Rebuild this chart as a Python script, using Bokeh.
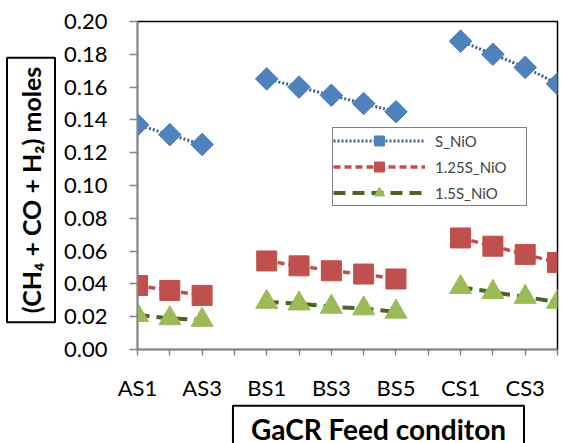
import numpy as np
from bokeh.plotting import figure
from bokeh.models import FixedTicker, Legend, LegendItem, Range1d, PrintfTickFormatter, Label
from bokeh.embed import file_html
from bokeh.resources import INLINE

# ---- data ----
feed = ["AS1", "AS2", "AS3", "", "BS1", "BS2", "BS3", "BS4", "BS5", "", "CS1", "CS2", "CS3", "CS4"]
shown_labels = ["AS1", "AS3", "BS1", "BS3", "BS5", "CS1", "CS3"]
y_ticks = [0.00, 0.02, 0.04, 0.06, 0.08, 0.10, 0.12, 0.14, 0.16, 0.18, 0.20]
s_nio = [0.137, 0.131, 0.125, np.nan, 0.165, 0.160, 0.155, 0.150, 0.145, np.nan, 0.188, 0.180, 0.172, 0.162]
s125_nio = [0.039, 0.036, 0.033, np.nan, 0.054, 0.051, 0.048, 0.046, 0.043, np.nan, 0.068, 0.063, 0.058, 0.053]
s15_nio = [0.021, 0.019, 0.018, np.nan, 0.029, 0.028, 0.026, 0.025, 0.023, np.nan, 0.038, 0.035, 0.032, 0.029]
series_names = ["S_NiO", "1.25S_NiO", "1.5S_NiO"]
y_title = "(CH\u2084 + CO + H\u2082) moles"
x_title = "GaCR Feed conditon"

x = np.arange(len(feed))
FONT = "Lato"

p = figure(width=564, height=443, output_backend="svg", toolbar_location=None,
           x_range=Range1d(x[0], x[-1]), y_range=Range1d(y_ticks[0], y_ticks[-1]),
           min_border_left=137, min_border_right=7, min_border_top=21, min_border_bottom=91)
p.xgrid.visible = False
p.ygrid.visible = False
p.outline_line_color = "black"
p.outline_line_width = 1.5
p.background_fill_color = "white"
p.border_fill_color = "white"

# axes
for ax in (p.xaxis[0], p.yaxis[0]):
    ax.axis_line_color = "#868686"
    ax.axis_line_width = 1.5
    ax.major_tick_line_color = "#868686"
    ax.major_tick_line_width = 1.5
    ax.major_tick_in = 0
    ax.minor_tick_line_color = None
    ax.major_label_text_font = FONT
    ax.major_label_text_font_size = "22px"
    ax.major_label_text_color = "black"

p.xaxis.ticker = FixedTicker(ticks=list(x))
p.xaxis.major_label_overrides = {int(i): (f if f in shown_labels else "") for i, f in zip(x, feed)}
p.xaxis.major_tick_out = 6
p.xaxis.major_label_standoff = 18

p.yaxis.ticker = FixedTicker(ticks=y_ticks)
p.yaxis.formatter = PrintfTickFormatter(format="%.2f")
p.yaxis.major_tick_out = 8
p.yaxis.major_label_standoff = 22

# series
l1 = p.line(x, np.array(s_nio), line_color="#3B5E96", line_width=3, line_dash="2 2")
m1 = p.scatter(x, np.array(s_nio), marker="square", angle=np.pi / 4, size=16,
               fill_color="#4F81BD", line_color="#4F81BD")
l2 = p.line(x, np.array(s125_nio), line_color="#C0504D", line_width=3.5, line_dash="7 4")
m2 = p.scatter(x, np.array(s125_nio), marker="square", size=20,
               fill_color="#C0504D", line_color="#C0504D")
l3 = p.line(x, np.array(s15_nio), line_color="#4F6228", line_width=4, line_dash="12 7")
m3 = p.scatter(x, np.array(s15_nio), marker="triangle", size=22,
               fill_color="#9BBB59", line_color="#9BBB59")

legend = Legend(items=[LegendItem(label=series_names[0], renderers=[l1, m1]),
                       LegendItem(label=series_names[1], renderers=[l2, m2]),
                       LegendItem(label=series_names[2], renderers=[l3, m3])],
                location=(195, 143))
legend.border_line_color = "black"
legend.border_line_width = 1.5
legend.padding = 0
legend.spacing = 1
legend.glyph_width = 92
legend.glyph_height = 25
legend.label_height = 25
legend.label_width = 91
legend.label_standoff = 10
legend.label_text_font = FONT
legend.label_text_font_size = "15px"
legend.margin = 0
legend.background_fill_alpha = 1
p.add_layout(legend, "center")

# axis titles (boxed), placed in side panels so they are not clipped to the frame
ylab = Label(x=-3.296, y=0.0973, text=y_title, angle=np.pi / 2,
             text_align="center", text_baseline="middle", text_font=FONT,
             text_font_size="25px", text_font_style="bold", text_color="black",
             border_line_color="black", border_line_width=2, padding=9,
             background_fill_color="white")
p.add_layout(ylab, "left")
xlab = Label(x=7.459, y=-0.0465, text=x_title,
             text_align="center", text_baseline="alphabetic", text_font=FONT,
             text_font_size="28px", text_font_style="bold", text_color="black",
             border_line_color="black", border_line_width=2,
             padding=dict(left=18, right=18, top=6, bottom=0),
             background_fill_color="white")
p.add_layout(xlab, "below")

open("out.html", "w").write(file_html(p, INLINE))
